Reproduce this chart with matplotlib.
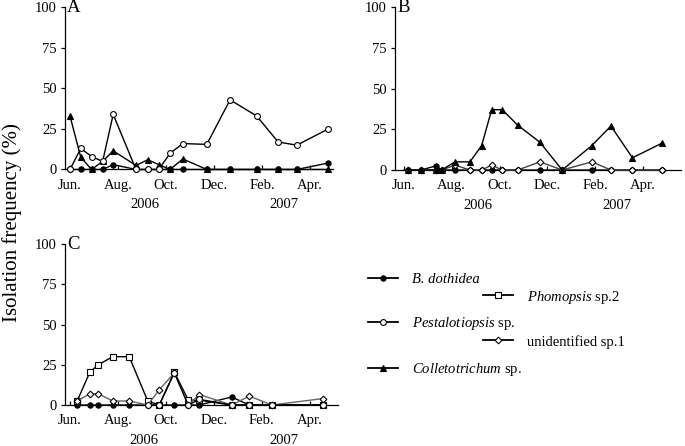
import numpy as np
import matplotlib
matplotlib.use("Agg")
import matplotlib.pyplot as plt
from matplotlib.lines import Line2D

plt.rcParams["font.family"] = "Liberation Serif"
plt.rcParams["mathtext.fontset"] = "custom"
plt.rcParams["mathtext.rm"] = "Liberation Serif"
plt.rcParams["mathtext.it"] = "Liberation Serif:italic"

nan = np.nan

# x = months since June 2006
month_labels = ["Jun.", "Aug.", "Oct.", "Dec.", "Feb.", "Apr."]
month_ticks = [0, 2, 4, 6, 8, 10]
years = ["2006", "2007"]
year_pos = [3.1, 8.9]

# panel A
months_a = [0, 0.45, 0.9, 1.36, 1.8, 2.75, 3.24, 3.7, 4.17, 4.7, 5.7, 6.67, 7.78, 8.67, 9.45, 10.76]
a_dothidea = [0, 0, 0, 0, 3, 0, 0, 0, 0, 0, 0, 0, 0, 0, 0, 4]
a_colletotrichum = [33, 7.5, 0, 5, 11.5, 2.5, 6, 3, 0, 6.5, 0, 0, 0, 0, 0, 0]
a_pestalotiopsis = [0, 13, 8, 5, 34, 0, 0, 0, 10, 16, 15.5, 43, 33, 17, 15, 25]

# panel B
months_b = [0.15, 0.71, 1.33, 1.58, 2.13, 2.76, 3.25, 3.67, 4.11, 4.76, 5.69, 6.62, 7.86, 8.66, 9.56, 10.8]
b_dothidea = [0, 0, 2.5, 0, 0, 0, 0, 0, 0, 0, 0, 0, 0, 0, 0, 0]
b_unidentified = [0, 0, 0, 0, 3, 0, 0, 3, 0, 0, 5, 0, 5, 0, 0, 0]
b_colletotrichum = [0, 0, 0, 0, 5, 5, 15, 37, 37, 27.5, 17, 0, 15, 27, 7.5, 16.5]

# panel C
months_c = [0.3, 0.83, 1.18, 1.78, 2.47, 3.24, 3.72, 4.35, 4.93, 5.39, 6.74, 7.47, 8.43, 10.53]
c_dothidea = [0, 0, 0, 0, 0, 0, 0, 0, 0, 0, 5, 0, 0, 0]
c_phomopsis = [2.5, 20.5, 25, 30, 30, 2.5, 0, 20.5, 3, 3, 0, 0, 0, 0]
c_unidentified = [2.5, 7, 7, 2.5, 2.5, 0, 9.5, 20, 0, 6.5, 0, 5.5, 0, 4]
c_pestalotiopsis = [nan, nan, nan, nan, nan, 0, 0, 20, 0, 3.5, 0, 0, 0, 0]

styles = {
    "dothidea": dict(marker="o", ms=3.8, mfc="black", mec="black"),
    "pestalotiopsis": dict(marker="o", ms=4.2, mfc="white", mec="black"),
    "colletotrichum": dict(marker="^", ms=4.8, mfc="black", mec="black"),
    "phomopsis": dict(marker="s", ms=3.8, mfc="white", mec="black"),
    "unidentified": dict(marker="D", ms=3.4, mfc="white", mec="black"),
}


def draw_series(ax, x, y, kind, z, color="black"):
    ax.plot(x, y, color=color, lw=1.0, mew=0.8, clip_on=False, zorder=z, **styles[kind])


def setup_axis(ax, xlim, letter):
    ax.set_xlim(*xlim)
    ax.set_ylim(0, 100)
    for s in ["top", "right"]:
        ax.spines[s].set_visible(False)
    ax.spines["left"].set_linewidth(0.9)
    ax.spines["bottom"].set_linewidth(0.9)
    ax.set_yticks([0, 25, 50, 75, 100])
    ax.set_xticks(month_ticks)
    ax.set_xticklabels(month_labels)
    ax.tick_params(axis="x", direction="in", length=3, width=0.9, pad=6.5, labelsize=10.5)
    ax.tick_params(axis="y", direction="out", length=3, width=0.9, pad=3, labelsize=10.5)
    ax.text(0.008, 1.0, letter, transform=ax.transAxes, fontsize=13.5, va="center", ha="left")
    for yr, xp in zip(years, year_pos):
        ax.annotate(yr, xy=(xp, 0), xycoords=("data", "axes fraction"), xytext=(0, -25.5),
                    textcoords="offset points", ha="center", va="center", fontsize=10.5)


fig = plt.figure(figsize=(6.85, 4.46), dpi=100)

ax_a = fig.add_axes([0.0949, 0.620, 0.3912, 0.3632])
setup_axis(ax_a, (-0.208, 10.958), "A")
draw_series(ax_a, months_a, a_dothidea, "dothidea", 3)
draw_series(ax_a, months_a, a_colletotrichum, "colletotrichum", 4)
draw_series(ax_a, months_a, a_pestalotiopsis, "pestalotiopsis", 5)

ax_b = fig.add_axes([0.5766, 0.6188, 0.4175, 0.3655])
setup_axis(ax_b, (-0.377, 11.59), "B")
draw_series(ax_b, months_b, b_dothidea, "dothidea", 3)
draw_series(ax_b, months_b, b_unidentified, "unidentified", 4, color="#444444")
draw_series(ax_b, months_b, b_colletotrichum, "colletotrichum", 5)

ax_c = fig.add_axes([0.0949, 0.0919, 0.3985, 0.361])
setup_axis(ax_c, (-0.208, 11.17), "C")
draw_series(ax_c, months_c, c_dothidea, "dothidea", 3)
draw_series(ax_c, months_c, c_phomopsis, "phomopsis", 4)
draw_series(ax_c, months_c, c_unidentified, "unidentified", 5, color="#666666")
draw_series(ax_c, months_c, c_pestalotiopsis, "pestalotiopsis", 6)

fig.text(0.018, 0.5, "Isolation frequency (%)", rotation=90, ha="center", va="center", fontsize=15)


def handle(kind):
    return Line2D([], [], color="black", lw=1.3, mew=0.8, **styles[kind])


leg1 = fig.legend([handle("dothidea"), handle("pestalotiopsis"), handle("colletotrichum")],
                  ["B. dothidea", r"$\mathit{Pestalotiopsis}$ sp.",
                   r"$\mathit{Colletotrichum}$ sp."],
                  loc="upper left", bbox_to_anchor=(0.537, 0.389), frameon=False, fontsize=10.5,
                  handlelength=2.05, handletextpad=0.95, labelspacing=2.0, borderpad=0, borderaxespad=0)
leg1.get_texts()[0].set_fontstyle("italic")
leg2 = fig.legend([handle("phomopsis"), handle("unidentified")],
                  [r"$\mathit{Phomopsis}$ sp.2", "unidentified sp.1"],
                  loc="upper left", bbox_to_anchor=(0.705, 0.353), frameon=False, fontsize=10.5,
                  handlelength=2.05, handletextpad=0.95, labelspacing=2.0, borderpad=0, borderaxespad=0)

fig.savefig("out.png", dpi=100)
